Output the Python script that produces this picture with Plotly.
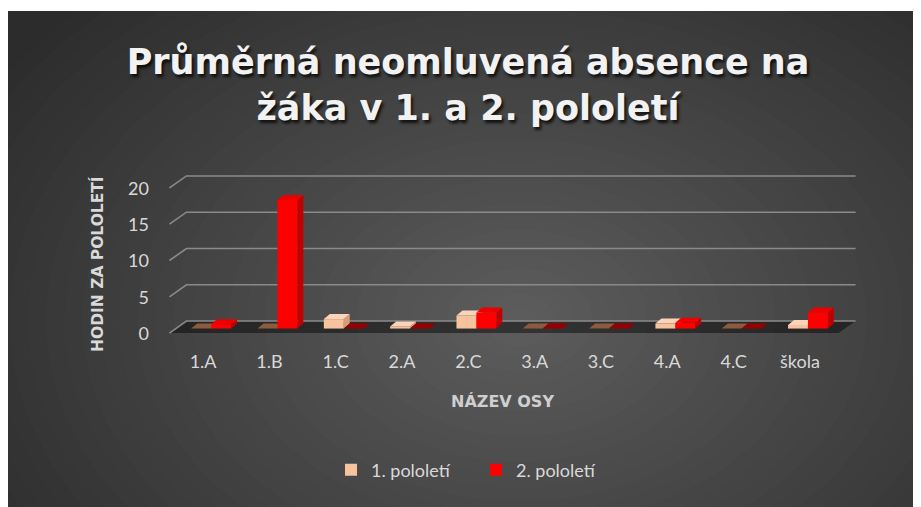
import plotly.graph_objects as go

# ---------------- data ----------------
categories = ["1.A", "1.B", "1.C", "2.A", "2.C", "3.A", "3.C", "4.A", "4.C", "škola"]
pololeti_1 = [0, 0, 1.3, 0.3, 1.8, 0, 0, 0.7, 0, 0.5]
pololeti_2 = [0.6, 17.7, 0, 0, 2.2, 0, 0, 0.8, 0, 2.2]
series_names = ["1. pololetí", "2. pololetí"]
y_ticks = [0, 5, 10, 15, 20]
title_lines = ["Průměrná neomluvená absence na", "žáka v 1. a 2. pololetí"]
x_title = "NÁZEV OSY"
y_title = "HODIN ZA POLOLETÍ"

# ---------------- layout geometry ----------------
PAGE_OFF = 8                     # browser body margin
W, H = 921 - PAGE_OFF, 507 - PAGE_OFF
# plot area in page pixels: x 168..859, y 174..334
PL, PR, PT, PB = 168, 859, 174, 334
L, T = PL - PAGE_OFF, PT - PAGE_OFF
R, B = W - (PR - PAGE_OFF), H - (PB - PAGE_OFF)
XR = [-0.65, 9.77]
YR = [-0.75, 21.3]
pw, ph = PR - PL, PB - PT
ux = pw / (XR[1] - XR[0])   # px per x unit
uy = ph / (YR[1] - YR[0])   # px per y unit


def px(p):
    return (p - PL) / pw


def py(p):
    return (PB - p) / ph


idx = list(range(len(categories)))
BW = 0.3
styles = [
    dict(front="#F7C39F", top="#FAD3B8", side="#D49C78", flat="#8C5B3E", off=-BW),
    dict(front="#FF0000", top="#EC0000", side="#C00000", flat="#960000", off=0.0),
]

fig = go.Figure()
for vals, name, st in zip([pololeti_1, pololeti_2], series_names, styles):
    fig.add_trace(go.Bar(
        x=idx, y=vals, name=name, width=BW, offset=st["off"],
        marker=dict(color=st["front"], line=dict(width=0)),
        hoverinfo="skip",
    ))

shapes = []

# ---- radial background gradient (paper coords) ----
cx, cy, rx, ry = 520, 320, 620, 440
N = 34
c_out, c_in = 44, 92
for k in range(N):
    s = 1 - k / N
    c = round(c_out + (c_in - c_out) * (k + 1) / N)
    shapes.append(dict(type="circle", xref="paper", yref="paper", layer="below",
                       x0=px(cx - rx * s), x1=px(cx + rx * s),
                       y0=py(cy + ry * s), y1=py(cy - ry * s),
                       fillcolor=f"rgb({c},{c},{c})", line=dict(width=0)))
# white frame strip at top
shapes.append(dict(type="rect", xref="paper", yref="paper", layer="below",
                   x0=px(-20), x1=px(940), y0=py(11), y1=py(-20),
                   fillcolor="white", line=dict(width=0)))

# ---- pseudo-3D floor and gridlines (data coords) ----
gx = 8.5 / ux
fy = 4.5 / uy
by = 7.5 / uy
rxg = 14.5 / ux
x_left, x_right = -0.5, len(categories) - 0.5
shapes.append(dict(type="path", xref="x", yref="y", layer="below",
                   path=(f"M{x_left - gx},{-fy} L{x_right + rxg - 2 * gx},{-fy} "
                         f"L{x_right + rxg},{by} L{x_left + gx},{by} Z"),
                   fillcolor="rgba(0,0,0,0.45)", line=dict(width=0)))
for v in y_ticks:
    shapes.append(dict(type="path", xref="x", yref="y", layer="below",
                       path=(f"M{x_left - gx},{v - fy} L{x_left + gx},{v + by} "
                             f"L{x_right + rxg},{v + by}"),
                       line=dict(color="#8a8a8a", width=1.6)))

# ---- bar top and side faces ----
dx = 6 / ux
dy = 5 / uy
for vals, st in zip([pololeti_1, pololeti_2], styles):
    for i, v in zip(idx, vals):
        x0 = i + st["off"]
        x1 = x0 + BW
        if v > 0:
            shapes.append(dict(type="path", xref="x", yref="y", layer="below",
                               path=f"M{x1},0 L{x1},{v} L{x1 + dx},{v + dy} L{x1 + dx},{dy} Z",
                               fillcolor=st["side"], line=dict(width=0)))
        shapes.append(dict(type="path", xref="x", yref="y", layer="below",
                           path=f"M{x0},{v} L{x1},{v} L{x1 + dx},{v + dy} L{x0 + dx},{v + dy} Z",
                           fillcolor=st["top"] if v > 0 else st["flat"], line=dict(width=0)))

tick_font = dict(family="Lato, 'Open Sans', sans-serif", size=18, color="#d9d9d9")
bold_font = "'DejaVu Sans', sans-serif"
fig.update_layout(
    width=W, height=H,
    margin=dict(l=L, r=R, t=T, b=B, autoexpand=False),
    paper_bgcolor="#2c2c2c",
    plot_bgcolor="rgba(0,0,0,0)",
    shapes=shapes,
    showlegend=True,
    barmode="group",
    title=dict(
        text="<br>".join(title_lines),
        x=(468 - PAGE_OFF) / W, xref="container", xanchor="center",
        y=1 - (74 - PAGE_OFF) / H, yref="container", yanchor="middle",
        font=dict(family=bold_font, size=35, color="#f2f2f2",
                  weight="bold", shadow="2px 3px 3px rgba(0,0,0,0.75)"),
    ),
    xaxis=dict(
        range=XR, tickmode="array", tickvals=idx, ticktext=categories,
        showgrid=False, zeroline=False, showline=False, ticks="",
        ticklabelstandoff=15, ticklabelshift=-8, tickfont=tick_font,
        fixedrange=True,
    ),
    yaxis=dict(
        range=YR, tickmode="array", tickvals=y_ticks,
        showgrid=False, zeroline=False, showline=False, ticks="",
        ticklabelstandoff=18, ticklabelshift=5, tickfont=tick_font,
        fixedrange=True,
    ),
    legend=dict(
        orientation="h", x=px(476), xanchor="center", y=py(470), yanchor="middle",
        font=tick_font, bgcolor="rgba(0,0,0,0)", traceorder="normal",
        entrywidth=100,
    ),
    annotations=[
        dict(text=x_title, xref="paper", yref="paper", x=px(502), y=py(401),
             showarrow=False, xanchor="center", yanchor="middle",
             font=dict(family=bold_font, size=16, color="#cfcfcf", weight="bold")),
        dict(text=y_title, xref="paper", yref="paper", x=px(97), y=py(264),
             showarrow=False, textangle=-90, xanchor="center", yanchor="middle",
             font=dict(family=bold_font, size=15.5, color="#d9d9d9", weight="bold")),
    ],
)

fig.write_html("out.html")
